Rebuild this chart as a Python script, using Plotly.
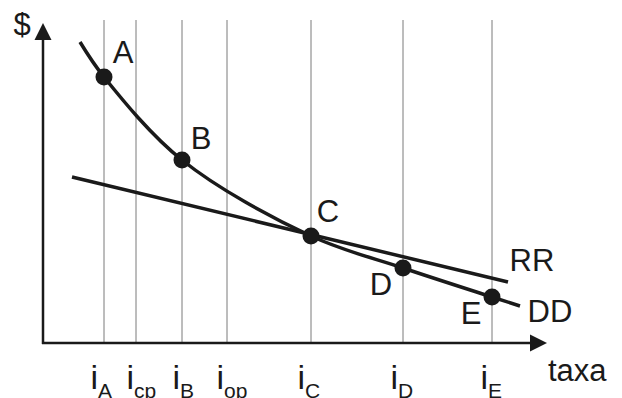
import plotly.graph_objects as go

# ---- data (screen-like units: x to the right, y downward) ----
tick_names = ["A", "cp", "B", "op", "C", "D", "E"]
tick_x = [104, 136, 182, 227, 311, 403, 492]
tick_label_x = [93, 129, 175, 219, 300, 393, 483]   # left edge of the "i" stem

dd_x = [80, 104, 182, 311, 403, 492, 520]
dd_y = [42, 77, 160, 236, 268, 297, 306]

rr_x = [72, 508]
rr_y = [177, 282]

pt_names = ["A", "B", "C", "D", "E"]
pt_x = [104, 182, 311, 403, 492]
pt_y = [77, 160, 236, 268, 297]

lbl_text = ["A", "B", "C", "D", "E", "RR", "DD", "$"]
lbl_x = [123, 201, 328, 381, 471, 532, 550, 22]
lbl_y = [55, 141, 214, 287, 316, 263, 314, 27]

axis_origin = (43, 343)
axis_x_end = 547
axis_y_end = 23
guide_top = 20

INK = "#1a1a1a"
FONT = "Liberation Sans, Arial, sans-serif"
FS = 31
PAGE_OFFSET = 8  # default body margin of the page

fig = go.Figure()

# vertical guide lines
gx, gy = [], []
for x in tick_x:
    gx += [x, x, None]
    gy += [axis_origin[1], guide_top, None]
fig.add_trace(go.Scatter(x=gx, y=gy, mode="lines",
                         line=dict(color="#7a7a7a", width=1), hoverinfo="skip"))

# axes
fig.add_trace(go.Scatter(x=[axis_origin[0] - 1, axis_x_end - 12], y=[axis_origin[1], axis_origin[1]],
                         mode="lines", line=dict(color=INK, width=2.5), hoverinfo="skip"))
fig.add_trace(go.Scatter(x=[axis_origin[0], axis_origin[0]], y=[axis_origin[1] + 1, axis_y_end + 12],
                         mode="lines", line=dict(color=INK, width=2.5), hoverinfo="skip"))
fig.add_trace(go.Scatter(x=[axis_origin[0], axis_x_end], y=[axis_y_end, axis_origin[1]],
                         mode="markers",
                         marker=dict(symbol=["arrow-up", "arrow-right"], size=17, color=INK,
                                     line=dict(width=0)),
                         hoverinfo="skip"))

# RR line
fig.add_trace(go.Scatter(x=rr_x, y=rr_y, mode="lines",
                         line=dict(color=INK, width=3.5), hoverinfo="skip"))
# DD curve
fig.add_trace(go.Scatter(x=dd_x, y=dd_y, mode="lines",
                         line=dict(color=INK, width=3.5, shape="spline", smoothing=1.0),
                         hoverinfo="skip"))
# points
fig.add_trace(go.Scatter(x=pt_x, y=pt_y, mode="markers",
                         marker=dict(size=17, color=INK, line=dict(width=0)),
                         hoverinfo="skip"))

# labels
fig.add_trace(go.Scatter(x=lbl_x, y=lbl_y, mode="text", text=lbl_text,
                         textposition="middle center",
                         textfont=dict(family=FONT, size=FS, color=INK), hoverinfo="skip"))

# tick labels: "i" plus a lowered subscript
fig.add_trace(go.Scatter(x=[x - 2.5 for x in tick_label_x], y=[380] * len(tick_x), mode="text",
                         text=["i"] * len(tick_x),
                         textposition="middle right",
                         textfont=dict(family=FONT, size=34, color=INK), hoverinfo="skip"))
fig.add_trace(go.Scatter(x=[x + 5 for x in tick_label_x], y=[393] * len(tick_x), mode="text",
                         text=tick_names,
                         textposition="middle right",
                         textfont=dict(family=FONT, size=21, color=INK), hoverinfo="skip"))
fig.add_trace(go.Scatter(x=[548], y=[373], mode="text", text=["taxa"],
                         textposition="middle right",
                         textfont=dict(family=FONT, size=FS, color=INK), hoverinfo="skip"))

fig.update_layout(
    width=622, height=398,
    margin=dict(l=0, r=0, t=0, b=0),
    paper_bgcolor="white", plot_bgcolor="white",
    showlegend=False,
    xaxis=dict(range=[PAGE_OFFSET, 622 + PAGE_OFFSET], visible=False, fixedrange=True),
    yaxis=dict(range=[398 + PAGE_OFFSET, PAGE_OFFSET], visible=False, fixedrange=True),
)

fig.write_html("out.html")
